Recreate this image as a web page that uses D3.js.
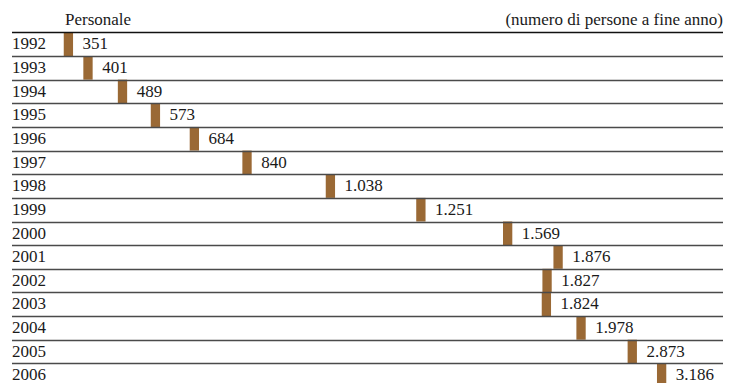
<!DOCTYPE html>
<html>
<head>
<meta charset="utf-8">
<script src="https://cdn.jsdelivr.net/npm/d3@7"></script>
<style>
  html, body { margin: 0; padding: 0; background: #fff; }
  svg { display: block; }
  text { font-family: "Liberation Serif", "Times New Roman", serif; fill: #1a1a1a; }
</style>
</head>
<body>
<svg id="chart" width="732" height="383"></svg>
<script>
// Staff at year end
const years = ["1992","1993","1994","1995","1996","1997","1998","1999","2000","2001","2002","2003","2004","2005","2006"];
const staff = [351, 401, 489, 573, 684, 840, 1038, 1251, 1569, 1876, 1827, 1824, 1978, 2873, 3186];

// Compressed value axis: segment break points and their share of the row width
const axisBreaks = [300, 600, 850, 1250, 1570, 1800, 2000, 2900, 3200];
const axisShare  = [0.0512, 0.2166, 0.3353, 0.5747, 0.6975, 0.7440, 0.8073, 0.8744, 0.9156];

const titleLeft = "Personale";
const titleRight = "(numero di persone a fine anno)";

const W = 732, H = 383;
const marginL = 12, marginR = 723, rowTop = 32.4, rowStep = 23.64;
const fontSize = 17;

const svg = d3.select("#chart");

const itLocale = d3.formatLocale({ decimal: ",", thousands: ".", grouping: [3], currency: ["€", ""] });
const fmt = itLocale.format(",d");

const x = d3.scaleLinear()
  .domain(axisBreaks)
  .range(axisShare.map(s => marginL + s * (marginR - marginL)));

const y = d3.scaleBand()
  .domain(years)
  .range([rowTop, rowTop + rowStep * years.length])
  .paddingInner(0).paddingOuter(0);

const data = years.map((yr, i) => ({ year: yr, value: staff[i] }));
const barW = 9.3;

// Headings
svg.append("text")
  .attr("x", 65).attr("y", 25)
  .attr("font-size", fontSize)
  .text(titleLeft);

svg.append("text")
  .attr("x", marginR).attr("y", 25)
  .attr("text-anchor", "end")
  .attr("font-size", fontSize)
  .text(titleRight);

// Bars spanning each row
svg.append("g").selectAll("rect")
  .data(data)
  .join("rect")
  .attr("x", d => x(d.value) - barW / 2)
  .attr("y", d => y(d.year))
  .attr("width", barW)
  .attr("height", y.bandwidth())
  .attr("fill", "#9a6935");

// Row separators
svg.append("g").selectAll("line")
  .data(data)
  .join("line")
  .attr("x1", marginL).attr("x2", marginR)
  .attr("y1", d => Math.round(y(d.year)) + 0.5)
  .attr("y2", d => Math.round(y(d.year)) + 0.5)
  .attr("stroke", (d, i) => i === 0 ? "#111" : "#4a4a4a")
  .attr("stroke-width", 1.3);

// Year labels
svg.append("g").selectAll("text")
  .data(data)
  .join("text")
  .attr("x", marginL)
  .attr("y", d => y(d.year) + 17)
  .attr("font-size", fontSize)
  .text(d => d.year);

// Value labels
svg.append("g").selectAll("text")
  .data(data)
  .join("text")
  .attr("x", d => x(d.value) + barW / 2 + 9.5)
  .attr("y", d => y(d.year) + 17)
  .attr("font-size", fontSize)
  .text(d => fmt(d.value));
</script>
</body>
</html>
